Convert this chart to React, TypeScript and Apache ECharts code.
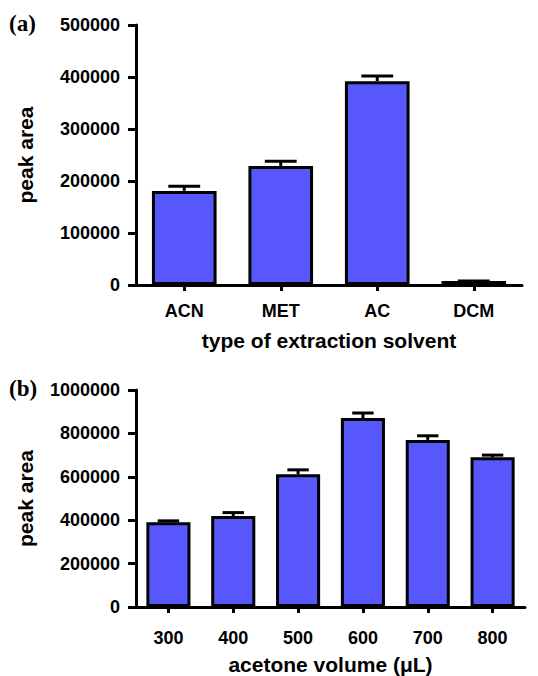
import React, { useEffect, useRef } from "react";
import * as echarts from "echarts";

const solvents = ["ACN", "MET", "AC", "DCM"];
const solventArea = [181000, 229000, 392000, 7500];
const solventErrTop = [190000, 238000, 402000, 7500];

const volumes = ["300", "400", "500", "600", "700", "800"];
const volumeArea = [390000, 419000, 612000, 871000, 770000, 690000];
const volumeErrTop = [397000, 435000, 632000, 894000, 789000, 700000];

const BAR_COLOR = "#5757fb";
const FONT = "'Liberation Sans', Arial, sans-serif";

function errRender(params: any, api: any) {
  const x = api.value(0);
  const v = api.value(1);
  const e = api.value(2);
  const p1 = api.coord([x, v]);
  const p2 = api.coord([x, e]);
  const bw = api.size([1, 0])[0];
  const hw = bw * 0.165;
  return {
    type: "group",
    children: [
      { type: "line", shape: { x1: p1[0], y1: p1[1], x2: p2[0], y2: p2[1] }, style: { stroke: "#000", lineWidth: 3 } },
      { type: "line", shape: { x1: p2[0] - hw, y1: p2[1], x2: p2[0] + hw, y2: p2[1] }, style: { stroke: "#000", lineWidth: 3 } },
    ],
  };
}

export default function App() {
  const ref = useRef<HTMLDivElement>(null);
  useEffect(() => {
    document.body.style.margin = "0";
    const chart = echarts.init(ref.current!, null, { renderer: "svg" });
    const yAxisCommon = (max: number, interval: number, gridIndex: number) => ({
      type: "value",
      gridIndex,
      min: 0,
      max,
      interval,
      name: "peak area",
      nameLocation: "middle",
      nameGap: 100,
      nameTextStyle: { fontFamily: FONT, fontWeight: "bold", fontSize: 21, color: "#000" },
      axisLine: { show: true, lineStyle: { color: "#000", width: 3 } },
      axisTick: { show: true, length: 8, lineStyle: { color: "#000", width: 3 } },
      axisLabel: {
        fontFamily: FONT,
        fontWeight: "bold",
        fontSize: 18,
        color: "#000",
        margin: 16,
        formatter: (v: number) => String(v),
      },
      splitLine: { show: false },
    });
    const xAxisCommon = (data: string[], name: string, gridIndex: number, labelMargin: number, nameGap: number) => ({
      type: "category",
      gridIndex,
      data,
      name,
      nameLocation: "middle",
      nameGap,
      nameTextStyle: { fontFamily: FONT, fontWeight: "bold", fontSize: 21, color: "#000" },
      axisLine: { show: true, lineStyle: { color: "#000", width: 3 } },
      axisTick: { show: true, alignWithLabel: true, length: 6, lineStyle: { color: "#000", width: 3 } },
      axisLabel: { fontFamily: FONT, fontWeight: "bold", fontSize: 18, color: "#000", margin: labelMargin },
    });
    chart.setOption({
      animation: false,
      backgroundColor: "#fff",
      grid: [
        { left: 136, right: 16, top: 25, bottom: 391 },
        { left: 136, right: 13, top: 390, bottom: 58 },
      ],
      xAxis: [
        xAxisCommon(solvents, "type of extraction solvent", 0, 17, 45),
        xAxisCommon(volumes, "acetone volume (\u03bcL)", 1, 22, 47),
      ],
      yAxis: [yAxisCommon(500000, 100000, 0), yAxisCommon(1000000, 200000, 1)],
      series: [
        {
          type: "bar",
          xAxisIndex: 0,
          yAxisIndex: 0,
          data: solventArea,
          barWidth: "67%",
          itemStyle: { color: BAR_COLOR, borderColor: "#000", borderWidth: 3 },
        },
        {
          type: "custom",
          xAxisIndex: 0,
          yAxisIndex: 0,
          renderItem: errRender,
          encode: { x: 0, y: 1 },
          data: solvents.map((_, i) => [i, solventArea[i], solventErrTop[i]]),
          z: 3,
        },
        {
          type: "bar",
          xAxisIndex: 1,
          yAxisIndex: 1,
          data: volumeArea,
          barWidth: "68%",
          itemStyle: { color: BAR_COLOR, borderColor: "#000", borderWidth: 3 },
        },
        {
          type: "custom",
          xAxisIndex: 1,
          yAxisIndex: 1,
          renderItem: errRender,
          encode: { x: 0, y: 1 },
          data: volumes.map((_, i) => [i, volumeArea[i], volumeErrTop[i]]),
          z: 3,
        },
      ],
      graphic: [
        {
          type: "text",
          left: 9,
          top: 12,
          style: { text: "(a)", font: "bold 23px 'Liberation Serif', 'Times New Roman', serif", fill: "#000" },
        },
        {
          type: "text",
          left: 9,
          top: 377,
          style: { text: "(b)", font: "bold 23px 'Liberation Serif', 'Times New Roman', serif", fill: "#000" },
        },
      ],
    });
    return () => chart.dispose();
  }, []);
  return <div ref={ref} style={{ width: 538, height: 676 }} />;
}
